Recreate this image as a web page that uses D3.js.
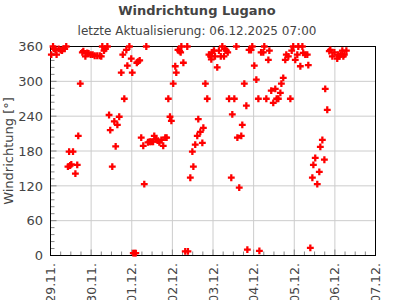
<!DOCTYPE html>
<html>
<head>
<meta charset="utf-8">
<script src="https://cdn.jsdelivr.net/npm/d3@7"></script>
<style>
  body { margin: 0; background: #fff; }
  text { font-family: "DejaVu Sans", sans-serif; fill: #444; }
</style>
</head>
<body>
<svg id="chart" width="395" height="300"></svg>
<script>
// chart data
var chartTitle = 'Windrichtung Lugano';
var chartSubtitle = 'letzte Aktualisierung: 06.12.2025 07:00';
var yLabel = 'Windrichtung [°]';
var startTime = new Date(2025, 10, 29, 0, 0);
var endTime = new Date(2025, 11, 7, 0, 0);
var yTicks = [0, 60, 120, 180, 240, 300, 360];

// hours after 29.11. 00:00
var hours = [
  0.5, 1.5, 2.1, 3.0, 3.6, 4.8, 6.0, 6.8, 7.4, 8.4, 9.3, 10.3, 11.0, 11.6, 12.3, 13.3, 14.7, 15.8, 16.4, 17.6, 18.8, 19.4, 20.6, 21.7, 22.5, 23.7,
  24.9, 26.1, 27.6, 29.1, 30.0, 30.6, 31.6, 32.4, 33.6, 34.6, 35.3, 36.5, 37.7, 38.5, 39.5, 40.6, 41.8, 42.7, 43.6, 44.8, 45.4, 46.6, 47.7,
  48.3, 48.9, 49.7, 50.4, 51.0, 51.7, 52.7, 53.6, 54.8, 55.4, 56.6, 57.6, 58.6, 59.5, 60.6, 61.3, 62.3, 63.5, 64.3, 65.5, 66.6, 67.8, 68.6, 69.6, 70.6, 71.4,
  72.5, 73.7, 74.3, 75.3, 76.3, 76.9, 77.3, 78.5, 79.6, 80.8, 81.2, 82.6, 83.8, 84.4, 85.5, 86.7, 87.3, 88.5, 89.7, 90.3, 91.5, 92.6, 93.6, 94.6, 95.0, 95.4,
  96.6, 97.2, 98.5, 99.5, 100.6, 101.5, 102.5, 103.1, 103.9, 104.7, 105.5, 106.8, 107.4, 108.6, 109.8, 110.4, 111.5, 112.7, 113.3, 114.5, 115.7, 116.3, 117.3, 118.5, 119.2,
  120.4, 121.6, 122.8, 123.4, 124.4, 125.7, 126.3, 127.5, 128.7, 129.3, 130.4, 131.6, 132.8, 133.6, 134.6, 135.8, 136.4, 137.5, 138.7, 139.3, 140.5, 141.7, 142.5, 143.4,
  144.6, 145.8, 146.4, 147.6, 148.8, 149.3, 150.5, 151.7, 152.3, 153.5, 154.7, 155.3, 156.4, 157.6, 158.8, 159.4, 160.6, 161.8, 162.3, 163.5, 164.7, 165.3, 166.5, 167.7,
  169.4, 170.0, 170.6, 171.4, 172.4, 173.0, 173.6, 174.8
];
var directions = [
  346, 360, 356, 354, 346, 356, 354, 353, 356, 356, 360, 153, 179, 155, 157, 179, 141, 156, 206, 296, 350, 352, 343, 349, 348, 346,
  346, 344, 344, 344, 343, 360, 353, 356, 360, 242, 216, 153, 231, 188, 225, 239, 315, 346, 270, 354, 327, 360, 339,
  315, 4, 4, 4, 332, 334, 336, 203, 189, 123, 360, 195, 196, 196, 196, 206, 200, 198, 195, 199, 189, 203, 203, 270, 239, 232,
  296, 326, 315, 354, 352, 350, 360, 332, 7, 360, 7, 134, 179, 153, 191, 206, 235, 213, 194, 220, 296, 270, 346, 343, 338, 350,
  353, 343, 324, 353, 343, 360, 343, 356, 353, 350, 270, 134, 243, 270, 360, 203, 117, 206, 225, 296, 258, 10, 354, 354, 360,
  327, 303, 270, 8, 350, 350, 360, 270, 337, 353, 284, 263, 287, 270, 270, 280, 296, 306, 337, 346, 343, 270, 353, 360,
  337, 346, 360, 326, 360, 349, 346, 346, 328, 13, 134, 156, 168, 123, 144, 187, 199, 165, 287, 251, 352, 354, 343, 350,
  339, 346, 343, 346, 353, 343, 346, 353
];

var svg = d3.select('#chart');

var x = d3.scaleTime()
    .domain([startTime, endTime])
    .range([50.5, 375.5]);

var y = d3.scaleLinear()
    .domain([0, 360])
    .range([255.5, 46.5]);

var points = hours.map(function(h, i) {
    return { time: d3.timeMinute.offset(startTime, Math.round(h * 60)), dir: directions[i] };
});

var days = d3.timeDay.range(startTime, d3.timeDay.offset(endTime, 1));
var minorX = d3.timeHour.every(6).range(startTime, endTime);
var minorY = d3.range(0, 361, 12);

// grid
svg.append('g').selectAll('line')
    .data(days.slice(1, -1))
    .join('line')
    .attr('x1', function(d) { return x(d); })
    .attr('x2', function(d) { return x(d); })
    .attr('y1', y(0))
    .attr('y2', y(360))
    .attr('stroke', '#cccccc');

svg.append('g').selectAll('line')
    .data(yTicks.slice(1, -1))
    .join('line')
    .attr('x1', x(startTime))
    .attr('x2', x(endTime))
    .attr('y1', function(d) { return y(d); })
    .attr('y2', function(d) { return y(d); })
    .attr('stroke', '#cccccc');

// minor ticks
svg.append('g').selectAll('line')
    .data(minorX)
    .join('line')
    .attr('x1', function(d) { return x(d); })
    .attr('x2', function(d) { return x(d); })
    .attr('y1', y(0))
    .attr('y2', function(d) { return y(0) - (d.getHours() === 0 ? 6 : 4); })
    .attr('stroke', '#888');

svg.append('g').selectAll('line')
    .data(minorY)
    .join('line')
    .attr('x1', x(startTime))
    .attr('x2', function(d) { return x(startTime) + (d % 60 === 0 ? 6 : 4); })
    .attr('y1', function(d) { return y(d); })
    .attr('y2', function(d) { return y(d); })
    .attr('stroke', '#888');

// frame
svg.append('rect')
    .attr('x', x(startTime))
    .attr('y', y(360))
    .attr('width', x(endTime) - x(startTime))
    .attr('height', y(0) - y(360))
    .attr('fill', 'none')
    .attr('stroke', '#000');

// tick labels
svg.append('g').selectAll('text')
    .data(yTicks)
    .join('text')
    .attr('x', 43)
    .attr('y', function(d) { return y(d); })
    .attr('dy', '0.36em')
    .attr('text-anchor', 'end')
    .style('font-size', '13px')
    .text(function(d) { return d; });

var fmt = d3.timeFormat('%d.%m.');
svg.append('g').selectAll('text')
    .data(days)
    .join('text')
    .attr('transform', function(d) { return 'translate(' + x(d) + ',263) rotate(-90)'; })
    .attr('dy', '0.36em')
    .attr('text-anchor', 'end')
    .style('font-size', '12.5px')
    .text(function(d) { return fmt(d); });

// titles
svg.append('text')
    .attr('x', 197)
    .attr('y', 15)
    .attr('text-anchor', 'middle')
    .style('font-size', '13px')
    .style('font-weight', 'bold')
    .text(chartTitle);

svg.append('text')
    .attr('x', 197)
    .attr('y', 35)
    .attr('text-anchor', 'middle')
    .style('font-size', '12px')
    .text(chartSubtitle);

svg.append('text')
    .attr('transform', 'translate(13,' + ((y(0) + y(360)) / 2) + ') rotate(-90)')
    .attr('text-anchor', 'middle')
    .style('font-size', '13px')
    .text(yLabel);

// points
var marker = d3.symbol().type(d3.symbolCross).size(26);
svg.append('g').selectAll('path')
    .data(points)
    .join('path')
    .attr('transform', function(d) { return 'translate(' + x(d.time) + ',' + y(d.dir) + ')'; })
    .attr('d', marker)
    .attr('fill', '#ff0000');
</script>
</body>
</html>
